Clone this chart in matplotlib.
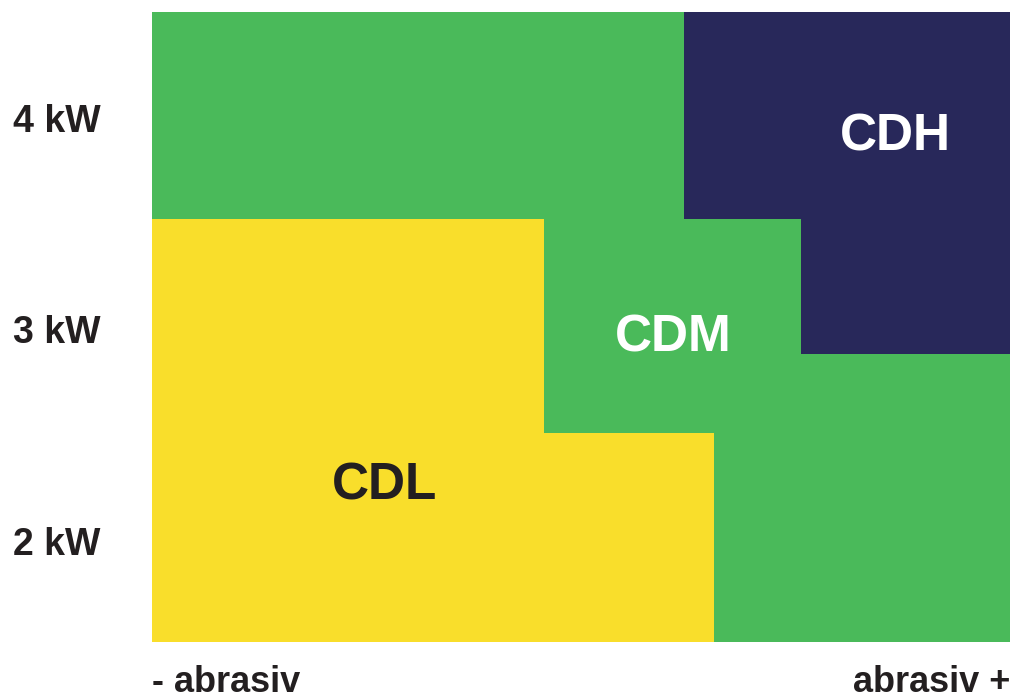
import matplotlib.pyplot as plt

# abrasiveness axis (0 = least abrasive, 100 = most), power axis in kW
power_ticks = [2, 3, 4]
power_labels = ['2 kW', '3 kW', '4 kW']
power_range = (1.52, 4.5)
abrasive_range = (0, 100)

# CDL (yellow) upper boundary, step shape
cdl_x = [0, 45.7, 65.5]
cdl_top = [3.52, 2.51, 2.51]

# CDH (navy) lower boundary, step shape
cdh_x = [62.0, 75.6, 100]
cdh_bottom = [3.52, 2.88, 2.88]

# zone labels
zone_names = ['CDL', 'CDM', 'CDH']
zone_x = [27.1, 60.8, 86.6]
zone_y = [2.26, 2.96, 3.91]

green = '#4aba5a'
yellow = '#f9de2b'
navy = '#28285a'
dark = '#231f20'

plt.rcParams['font.family'] = ['Liberation Sans', 'DejaVu Sans']

fig = plt.figure(figsize=(10.15, 6.98), dpi=100)
ax = fig.add_axes([152 / 1015, 56 / 698, 858 / 1015, 630 / 698])
ax.set_facecolor(green)

ax.fill_between(cdl_x, power_range[0], cdl_top, step='post', color=yellow, linewidth=0)
ax.fill_between(cdh_x, cdh_bottom, power_range[1], step='post', color=navy, linewidth=0)

ax.set_xlim(*abrasive_range)
ax.set_ylim(*power_range)

colors = [dark, 'white', 'white']
for name, x, y, c in zip(zone_names, zone_x, zone_y, colors):
    ax.text(x, y, name, ha='center', va='center', fontsize=37, fontweight='bold', color=c)

ax.set_yticks(power_ticks)
ax.set_yticklabels(power_labels, fontsize=27, fontweight='bold', color=dark)
ax.tick_params(axis='y', length=0, pad=37)
ax.set_xticks([])
for s in ax.spines.values():
    s.set_visible(False)

fig.text(152 / 1015, 6 / 698, '- abrasiv', ha='left', va='baseline',
         fontsize=26, fontweight='bold', color=dark)
fig.text(1010 / 1015, 6 / 698, 'abrasiv +', ha='right', va='baseline',
         fontsize=26, fontweight='bold', color=dark)

fig.savefig('out.png', dpi=100)
